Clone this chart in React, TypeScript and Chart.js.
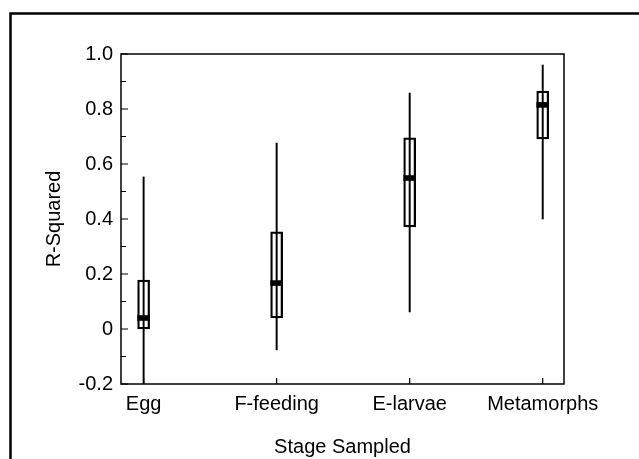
import React, { useEffect, useRef } from "react";
import { Chart, registerables } from "chart.js";

Chart.register(...registerables);

// ---- data ----
const categories = ["Egg", "F-feeding", "E-larvae", "Metamorphs"];
const categoryPositions = [1, 2, 3, 4];
const whiskerMin = [-0.2, -0.076, 0.062, 0.4];
const whiskerMax = [0.553, 0.676, 0.858, 0.96];
const boxQ1 = [0.0, 0.04, 0.371, 0.691];
const boxQ3 = [0.178, 0.353, 0.695, 0.865];
const medians = [0.04, 0.167, 0.549, 0.815];

const yMajorTicks = [-0.2, 0, 0.2, 0.4, 0.6, 0.8, 1.0];
const yMajorLabels = ["-0.2", "0", "0.2", "0.4", "0.6", "0.8", "1.0"];
const yMinorTicks = [-0.1, 0.1, 0.3, 0.5, 0.7, 0.9];

const FONT = "'Liberation Sans', Arial, Helvetica, sans-serif";
const TEXT_FONT = { size: 20 };

const framePlugin = {
  id: "frames",
  afterDraw(chart: any) {
    const { ctx, chartArea: a, scales } = chart;
    ctx.save();
    ctx.strokeStyle = "#000";
    // outer figure frame (extends past the right/bottom of the picture)
    ctx.lineWidth = 2.5;
    ctx.beginPath();
    ctx.moveTo(10.5, 459);
    ctx.lineTo(10.5, 13.5);
    ctx.lineTo(639, 13.5);
    ctx.stroke();
    // plot frame
    ctx.lineWidth = 1.5;
    ctx.strokeRect(a.left, a.top, a.right - a.left, a.bottom - a.top);
    // inward tick marks
    ctx.lineWidth = 1.2;
    ctx.beginPath();
    const y = scales.y;
    yMajorTicks.forEach((v) => {
      const p = y.getPixelForValue(v);
      ctx.moveTo(a.left, p);
      ctx.lineTo(a.left + 7, p);
    });
    yMinorTicks.forEach((v) => {
      const p = y.getPixelForValue(v);
      ctx.moveTo(a.left, p);
      ctx.lineTo(a.left + 5, p);
    });
    const x = scales.x;
    categoryPositions.forEach((v) => {
      const p = x.getPixelForValue(v);
      ctx.moveTo(p, a.bottom);
      ctx.lineTo(p, a.bottom - 6);
    });
    ctx.stroke();
    ctx.restore();
  },
};

export default function App() {
  const ref = useRef<HTMLCanvasElement | null>(null);

  useEffect(() => {
    if (!ref.current) return;
    Chart.defaults.font.family = FONT;
    Chart.defaults.color = "#000";

    const whiskerData = categoryPositions.map((x, i) => ({ x, y: [whiskerMin[i], whiskerMax[i]] }));
    const boxData = categoryPositions.map((x, i) => ({ x, y: [boxQ1[i], boxQ3[i]] }));
    const medianData = categoryPositions.map((x, i) => ({ x, y: [medians[i] - 0.009, medians[i] + 0.009] }));

    const chart = new Chart(ref.current, {
      type: "bar",
      data: {
        datasets: [
          {
            label: "Median",
            data: medianData as any,
            backgroundColor: "#000",
            borderWidth: 0,
            barThickness: 12,
            grouped: false,
            order: 0,
          },
          {
            label: "Box",
            data: boxData as any,
            backgroundColor: "rgba(0,0,0,0)",
            borderColor: "#000",
            borderWidth: 1.6,
            borderSkipped: false,
            barThickness: 12,
            grouped: false,
            order: 1,
          },
          {
            label: "Whisker",
            data: whiskerData as any,
            backgroundColor: "#000",
            borderWidth: 0,
            barThickness: 1.3,
            grouped: false,
            order: 2,
          },
        ],
      },
      options: {
        animation: false,
        responsive: false,
        events: [],
        layout: { padding: { left: 0, top: 54, right: 75, bottom: 0 } },
        plugins: {
          legend: { display: false },
          tooltip: { enabled: false },
          title: { display: false },
        },
        scales: {
          x: {
            type: "linear",
            min: 0.83,
            max: 4.16,
            offset: false,
            grid: { display: false, drawTicks: false },
            border: { display: false },
            afterBuildTicks: (s: any) => {
              s.ticks = categoryPositions.map((v) => ({ value: v }));
            },
            afterFit: (s: any) => {
              s.height = 75;
            },
            ticks: {
              autoSkip: false,
              maxRotation: 0,
              padding: 8,
              font: TEXT_FONT,
              color: "#000",
              callback: (v: any) => categories[categoryPositions.indexOf(Number(v))] ?? "",
            },
            title: {
              display: true,
              text: "Stage Sampled",
              font: TEXT_FONT,
              color: "#000",
              padding: { top: 0, bottom: 0 },
            },
          },
          y: {
            type: "linear",
            min: -0.2,
            max: 1.0,
            grid: { display: false, drawTicks: false },
            border: { display: false },
            afterBuildTicks: (s: any) => {
              s.ticks = yMajorTicks.map((v) => ({ value: v }));
            },
            afterFit: (s: any) => {
              s.width = 121;
            },
            ticks: {
              autoSkip: false,
              padding: 8,
              font: TEXT_FONT,
              color: "#000",
              callback: (v: any) => {
                const idx = yMajorTicks.findIndex((t) => Math.abs(t - Number(v)) < 1e-6);
                return idx >= 0 ? yMajorLabels[idx] : "";
              },
            },
            title: {
              display: true,
              text: "R-Squared",
              font: TEXT_FONT,
              color: "#000",
              padding: { top: 42, bottom: 0 },
            },
          },
        },
      },
      plugins: [framePlugin],
    });

    return () => chart.destroy();
  }, []);

  return (
    <div style={{ position: "fixed", left: 0, top: 0, width: 639, height: 459, background: "#fff" }}>
      <canvas ref={ref} width={639} height={459} style={{ display: "block" }} />
    </div>
  );
}
